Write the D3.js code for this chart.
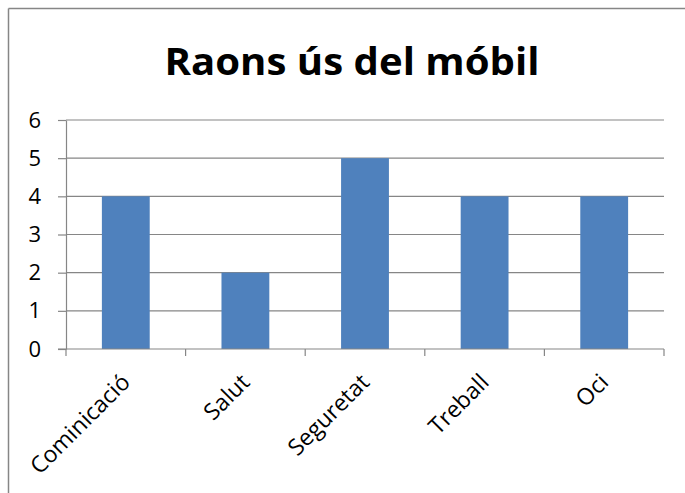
<!DOCTYPE html>
<html><head><meta charset="utf-8">
<script src="https://cdn.jsdelivr.net/npm/d3@7"></script>
<style>html,body{margin:0;padding:0;background:#fff;overflow:hidden}</style>
</head><body>
<script>
const categories = ["Cominicació", "Salut", "Seguretat", "Treball", "Oci"];
const values = [4, 2, 5, 4, 4];
const yTicks = [0, 1, 2, 3, 4, 5, 6];
const title = "Raons ús del móbil";

(function () {
const W = 685, H = 493;
const svg = d3.select("body").append("svg").attr("width", W).attr("height", H);
svg.append("rect").attr("width", W).attr("height", H).attr("fill", "#fff");
// outer frame (only top & left visible)
svg.append("line").attr("x1", 8.5).attr("x2", 8.5).attr("y1", 8.5).attr("y2", H).attr("stroke", "#868686").attr("stroke-width", 1.5);
svg.append("line").attr("x1", 8.5).attr("x2", W).attr("y1", 8.5).attr("y2", 8.5).attr("stroke", "#868686").attr("stroke-width", 1.5);

const pLeft = 66, pRight = 664, pTop = 120, pBottom = 349;
const x = d3.scaleBand().domain(categories).range([pLeft, pRight]).paddingInner(0.6).paddingOuter(0.3);
const y = d3.scaleLinear().domain([0, 6]).range([pBottom, pTop]);
const font = "'Open Sans', 'DejaVu Sans', sans-serif";

// gridlines
svg.append("g").selectAll("line").data(yTicks.filter(d => d > 0)).join("line")
  .attr("x1", pLeft).attr("x2", pRight).attr("y1", d => y(d)).attr("y2", d => y(d))
  .attr("stroke", "#868686").attr("stroke-width", 1.2);

// bars
svg.append("g").selectAll("rect").data(values).join("rect")
  .attr("x", (d, i) => x(categories[i])).attr("width", x.bandwidth())
  .attr("y", d => y(d)).attr("height", d => y(0) - y(d)).attr("fill", "#4F81BD");

// y axis
const yAxis = d3.axisLeft(y).tickValues(yTicks).tickFormat(d3.format("d")).tickSize(8).tickSizeOuter(0).tickPadding(17);
const gy = svg.append("g").attr("transform", `translate(${pLeft},0)`).call(yAxis);
gy.attr("font-size", null).attr("font-family", null);
gy.select(".domain").attr("stroke", "#868686").attr("stroke-width", 1.2);
gy.selectAll(".tick line").attr("stroke", "#868686").attr("stroke-width", 1.2);
gy.selectAll("text").style("font-family", font).style("font-size", "22px").attr("fill", "#000");

// x axis line + boundary ticks
const boundaries = d3.range(categories.length + 1).map(i => pLeft + i * (pRight - pLeft) / categories.length);
svg.append("line").attr("x1", pLeft - 8).attr("x2", pRight).attr("y1", pBottom).attr("y2", pBottom)
  .attr("stroke", "#868686").attr("stroke-width", 1.2);
svg.append("g").selectAll("line").data(boundaries).join("line")
  .attr("x1", d => d).attr("x2", d => d).attr("y1", pBottom).attr("y2", pBottom + 7)
  .attr("stroke", "#868686").attr("stroke-width", 1.2);

// x labels
svg.append("g").selectAll("text").data(categories).join("text")
  .attr("transform", d => `translate(${x(d) + x.bandwidth() / 2 - 6},${pBottom + 23}) rotate(-45)`)
  .attr("text-anchor", "end").attr("dy", "0.72em")
  .style("font-family", font).style("font-size", "23px").attr("fill", "#000")
  .text(d => d);

// title
svg.append("text").attr("x", 352).attr("y", 75).attr("text-anchor", "middle")
  .style("font-family", font).attr("font-weight", "bold").style("font-size", "38px").attr("fill", "#000")
  .attr("textLength", 375).attr("lengthAdjust", "spacingAndGlyphs")
  .text(title);
})();
</script>
</body></html>
